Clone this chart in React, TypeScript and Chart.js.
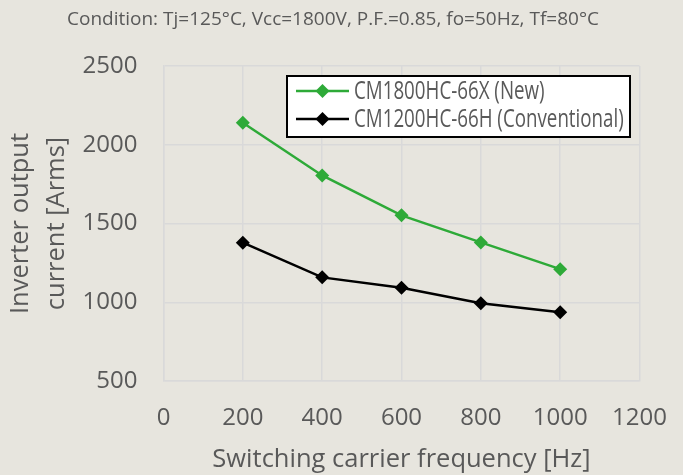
import React, { useEffect, useRef } from "react";
import { Chart, registerables } from "chart.js";

Chart.register(...registerables);

const frequencies = [200, 400, 600, 800, 1000];
const newSeries = [2140, 1805, 1552, 1380, 1210];
const convSeries = [1378, 1158, 1092, 994, 937];
const seriesLabels = ["CM1800HC-66X (New)", "CM1200HC-66H (Conventional)"];
const chartTitle = "Condition: Tj=125°C, Vcc=1800V, P.F.=0.85, fo=50Hz, Tf=80°C";
const xTitle = "Switching carrier frequency [Hz]";
const yTitle = ["Inverter output", "current [Arms]"];

const GREEN = "#2eaa38";
const BLACK = "#000000";
const TEXT = "#595959";
const GRID = "#d9d9d9";
const BG = "#e7e5de";

const bgPlugin = {
  id: "bg",
  beforeDraw(chart: any) {
    const { ctx, width, height } = chart;
    ctx.save();
    ctx.fillStyle = BG;
    ctx.fillRect(0, 0, width, height);
    ctx.restore();
  },
};

const extrasPlugin = {
  id: "extras",
  afterDraw(chart: any) {
    const { ctx, chartArea } = chart;
    ctx.save();
    // Title
    ctx.fillStyle = TEXT;
    ctx.font = "19px 'Open Sans'";
    ctx.textAlign = "center";
    ctx.textBaseline = "middle";
    ctx.fillText(chartTitle, 333, 20);

    // Legend box
    const boxRight = chartArea.right - 9.5;
    const boxLeft = boxRight - 343;
    const boxTop = chartArea.top + 10;
    const boxH = 61;
    ctx.fillStyle = "#ffffff";
    ctx.fillRect(boxLeft, boxTop, boxRight - boxLeft, boxH);
    ctx.strokeStyle = "#000000";
    ctx.lineWidth = 2;
    ctx.strokeRect(boxLeft, boxTop, boxRight - boxLeft, boxH);

    const ds = chart.data.datasets;
    const rows = [boxTop + 15, boxTop + 43];
    ds.forEach((d: any, i: number) => {
      const y = rows[i];
      const x0 = boxLeft + 9;
      const x1 = boxLeft + 62;
      ctx.strokeStyle = d.borderColor;
      ctx.lineWidth = 2.5;
      ctx.beginPath();
      ctx.moveTo(x0, y);
      ctx.lineTo(x1, y);
      ctx.stroke();
      const cx = (x0 + x1) / 2;
      const r = 7;
      ctx.fillStyle = d.backgroundColor;
      ctx.beginPath();
      ctx.moveTo(cx, y - r);
      ctx.lineTo(cx + r, y);
      ctx.lineTo(cx, y + r);
      ctx.lineTo(cx - r, y);
      ctx.closePath();
      ctx.fill();

      ctx.save();
      ctx.translate(boxLeft + 67, y + 1);
      ctx.scale(0.75, 1);
      ctx.fillStyle = TEXT;
      ctx.font = "25px 'Open Sans'";
      ctx.textAlign = "left";
      ctx.textBaseline = "middle";
      ctx.fillText(d.label, 0, 0);
      ctx.restore();
    });
    ctx.restore();
  },
};

export default function App() {
  const ref = useRef<HTMLCanvasElement>(null);
  useEffect(() => {
    document.body.style.margin = "0";
    const canvas = ref.current!;
    const chart = new Chart(canvas, {
      type: "line",
      data: {
        datasets: [
          {
            label: seriesLabels[0],
            data: frequencies.map((f, i) => ({ x: f, y: newSeries[i] })),
            borderColor: GREEN,
            backgroundColor: GREEN,
            borderWidth: 2.5,
            pointStyle: "rectRot",
            pointRadius: 7,
            pointBorderWidth: 0,
            pointBackgroundColor: GREEN,
          },
          {
            label: seriesLabels[1],
            data: frequencies.map((f, i) => ({ x: f, y: convSeries[i] })),
            borderColor: BLACK,
            backgroundColor: BLACK,
            borderWidth: 2.5,
            pointStyle: "rectRot",
            pointRadius: 7,
            pointBorderWidth: 0,
            pointBackgroundColor: BLACK,
          },
        ],
      },
      options: {
        responsive: false,
        animation: false,
        layout: { padding: { left: 0, right: 43.5, top: 66, bottom: 0 } },
        plugins: {
          legend: { display: false },
          tooltip: { enabled: false },
          title: { display: false },
        },
        scales: {
          x: {
            type: "linear",
            min: 0,
            max: 1200,
            afterFit: (s: any) => {
              s.height = 94;
              s.paddingLeft = 0;
              s.paddingRight = 0;
            },
            ticks: {
              stepSize: 200,
              color: TEXT,
              font: { family: "'Open Sans'", size: 24 },
              padding: 23,
              callback: (v: any) => String(v),
            },
            grid: { color: GRID, lineWidth: 1.5, drawTicks: false },
            border: { color: GRID, width: 1.5 },
            title: {
              display: true,
              text: xTitle,
              color: TEXT,
              font: { family: "'Open Sans'", size: 25.5 },
              padding: { top: 0, bottom: 0 },
            },
          },
          y: {
            type: "linear",
            min: 500,
            max: 2500,
            afterFit: (s: any) => {
              s.width = 163.5;
              s.paddingTop = 0;
              s.paddingBottom = 0;
            },
            ticks: {
              stepSize: 500,
              color: TEXT,
              font: { family: "'Open Sans'", size: 24 },
              padding: 26,
              callback: (v: any) => String(v),
            },
            grid: { color: GRID, lineWidth: 1.5, drawTicks: false },
            border: { color: GRID, width: 1.5 },
            title: {
              display: true,
              text: yTitle,
              color: TEXT,
              font: { family: "'Open Sans'", size: 25.5, lineHeight: 1.41 },
              padding: { top: 3, bottom: 0 },
            },
          },
        },
      },
      plugins: [bgPlugin, extrasPlugin],
    } as any);
    return () => chart.destroy();
  }, []);
  return (
    <div style={{ width: 683, height: 475 }}>
      <canvas ref={ref} width={683} height={475} />
    </div>
  );
}
